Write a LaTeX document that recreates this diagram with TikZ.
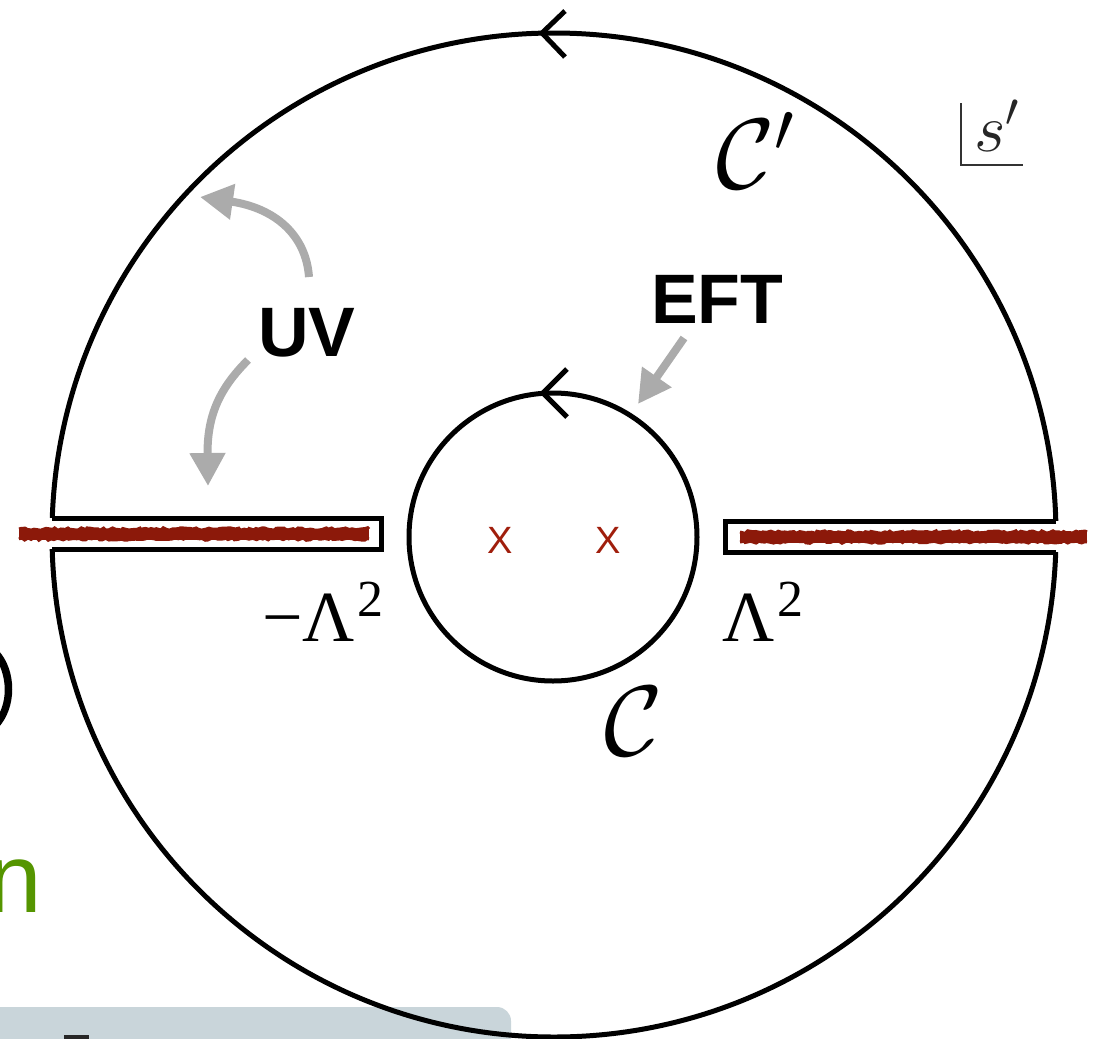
\RequirePackage{fix-cm}
\documentclass[tikz,border=0pt]{standalone}
\usepackage{fontspec}
\newfontfamily\arialf{Liberation Sans}
\newfontfamily\timesf{Liberation Serif}
\usetikzlibrary{arrows.meta,decorations.pathmorphing}
\definecolor{cutred}{RGB}{140,25,10}
\definecolor{xred}{RGB}{160,30,12}
\definecolor{arrgray}{RGB}{171,171,171}
\definecolor{boxgray}{RGB}{201,213,218}
\definecolor{slidegreen}{RGB}{85,149,0}
\begin{document}
\begin{tikzpicture}[x=1pt,y=-1pt,
  contour/.style={line width=5pt,black,line join=miter},
  grayarrow/.style={line width=8pt,arrgray,-{Triangle[length=33pt,width=34pt]}},
  cutline/.style={line width=11pt,cutred},
  cutfuzz/.style={line width=3pt,cutred,decorate,decoration={random steps,segment length=3pt,amplitude=1.3pt}},
  lbl/.style={inner sep=0pt,outer sep=0pt}]
\useasboundingbox (0,0) rectangle (1096,1039);
% background slide remnants
\fill[boxgray,rounded corners=14pt] (-20,1007) rectangle (511,1080);
\fill[black!85] (64,1035) rectangle (89,1042);
\node[lbl,anchor=base east,text=slidegreen] (ngreen) at (42,912) {\arialf\fontsize{98}{98}\selectfont n};
\fill[black] (-2,650) .. controls (17,670) and (17,708) .. (-2,728) -- (-2,716) .. controls (7,700) and (7,680) .. (-2,662) -- cycle;
% outer circle
\coordinate (O) at (554,535);
\coordinate (I) at (553,537);
\draw[contour] (O) circle (502);
% channels (erase circle)
\fill[white] (30,518) rectangle (381,549);
\fill[white] (725,521) rectangle (1075,552);
\coordinate (lt) at (52.3,518);
\coordinate (lb) at (52.2,549);
\coordinate (rt) at (1055.8,521);
\coordinate (rb) at (1055.7,552);
\draw[contour] (lt) -- (381,518) -- (381,549) -- (lb);
\draw[contour] (rt) -- (725,521) -- (725,552) -- (rb);
% cuts
\pgfmathsetseed{3}
\draw[cutline] (19,534) -- (369,534);
\draw[cutfuzz] (19,529) -- (369,529);
\draw[cutfuzz] (19,539) -- (369,539);
\draw[cutline] (740,537) -- (1087,537);
\draw[cutfuzz] (740,532) -- (1087,532);
\draw[cutfuzz] (740,542) -- (1087,542);
% inner circle
\draw[contour] (I) circle (144);
% open arrowheads
\coordinate (ta) at (542,33);
\draw[contour] (565,11) -- (ta) -- (565,57);
\coordinate (tb) at (543,393);
\draw[contour] (567,369) -- (tb) -- (567,417);
% poles
\node[lbl,text=xred] (x1) at (500,540) {\arialf\fontsize{38}{38}\selectfont X};
\node[lbl,text=xred] (x2) at (608,540) {\arialf\fontsize{38}{38}\selectfont X};
% labels
\node[lbl,anchor=base west] (uv) at (258,356) {\arialf\bfseries\fontsize{70}{70}\selectfont UV};
\node[lbl,anchor=base west] (eft) at (651,323) {\arialf\bfseries\fontsize{70}{70}\selectfont EFT};
\node[lbl,anchor=base west] (lamL) at (262,641) {\timesf\fontsize{72}{72}\selectfont −Λ\kern3pt\raisebox{25pt}{\fontsize{52}{52}\selectfont 2}};
\node[lbl,anchor=base west] (lamR) at (722,641) {\timesf\fontsize{72}{72}\selectfont Λ\kern3pt\raisebox{25pt}{\fontsize{52}{52}\selectfont 2}};
\node[lbl,anchor=base west] (Cp) at (716,188) {\fontsize{100}{100}\selectfont $\mathcal{C}'$};
\node[lbl,anchor=base west] (C) at (604,755) {\fontsize{100}{100}\selectfont $\mathcal{C}$};
\node[lbl,anchor=base west,text=black!85] (sp) at (974,151) {\fontsize{68}{68}\selectfont $s'$};
\draw[line width=2.5pt,black!80] (961,103) -- (961,165) -- (1023,165);
% gray arrows
\coordinate (u1s) at (309,277);
\coordinate (u1e) at (200,197);
\draw[grayarrow] (u1s) .. controls (306,235) and (275,208) .. (u1e);
\coordinate (u2s) at (248,360);
\coordinate (u2e) at (208,486);
\draw[grayarrow] (u2s) .. controls (220,388) and (207,415) .. (u2e);
\coordinate (e1s) at (684,338);
\coordinate (e1e) at (638,404);
\draw[grayarrow] (e1s) -- (e1e);
\end{tikzpicture}
\end{document}
